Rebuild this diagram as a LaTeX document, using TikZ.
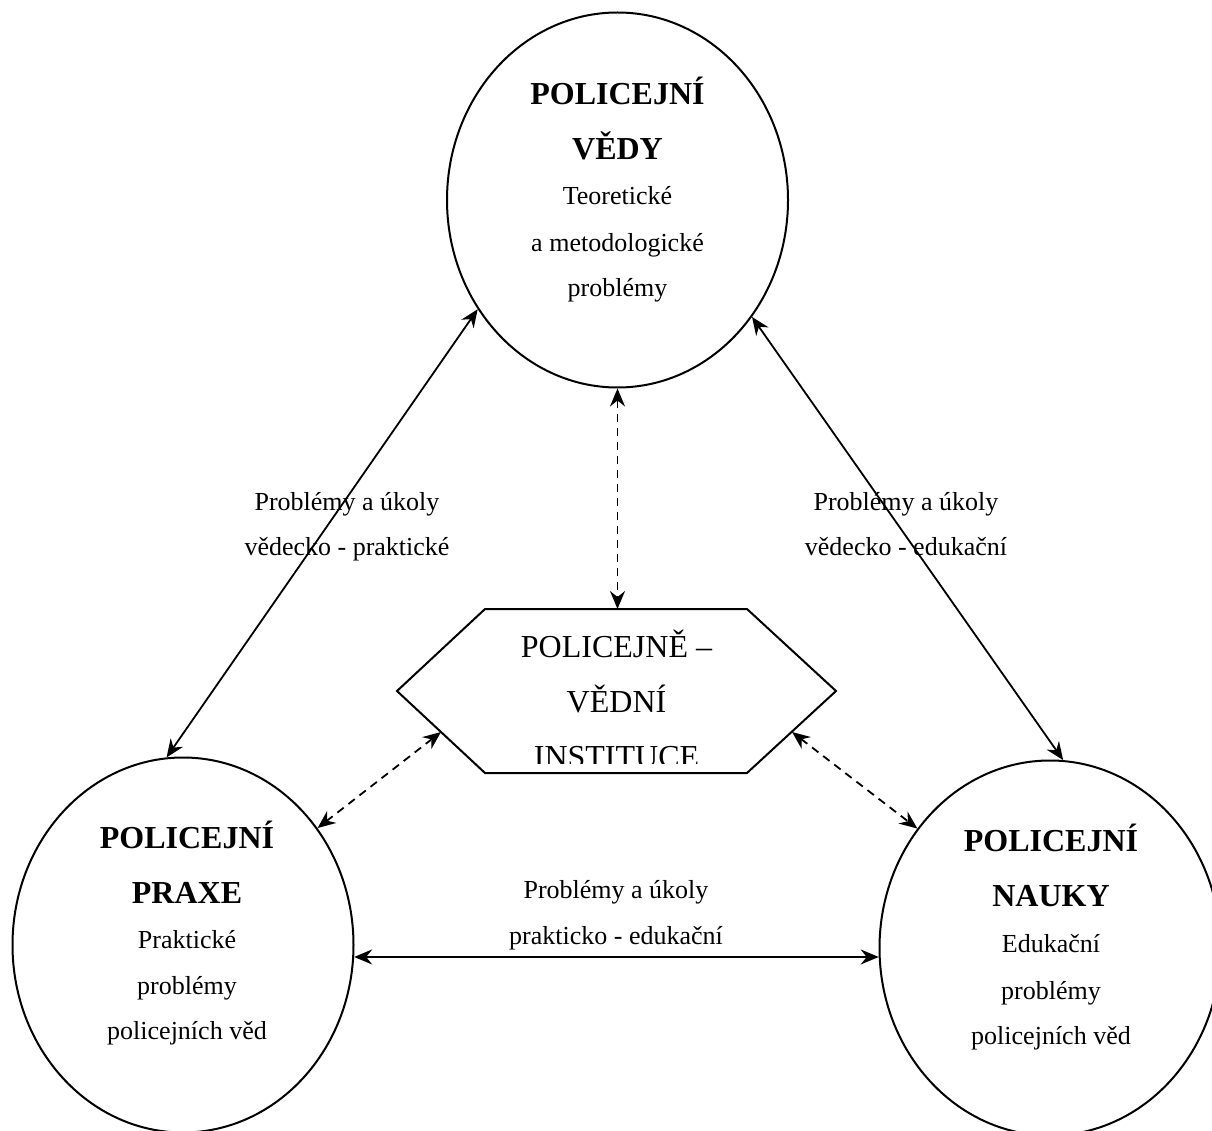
\documentclass[tikz,border=0pt]{standalone}
\usepackage{fontspec}
\setmainfont{Liberation Serif}
\usetikzlibrary{shapes.geometric,arrows.meta}
\begin{document}
\begin{tikzpicture}[x=1pt,y=-1pt,
  ell/.style={ellipse, draw, line width=2pt, minimum width=341pt, minimum height=375pt, inner sep=0pt},
  headtxt/.style={font=\fontsize{32}{38}\selectfont\bfseries, anchor=base, inner sep=0pt},
  bodytxt/.style={font=\fontsize{26}{31}\selectfont, anchor=base, inner sep=0pt},
  hextxt/.style={font=\fontsize{32}{38}\selectfont, anchor=base, inner sep=0pt},
  conn/.style={line width=1.8pt, {Stealth[length=18pt,width=15pt,inset=6pt]}-{Stealth[length=18pt,width=15pt,inset=6pt]}},
  dconn/.style={conn, dash pattern=on 8pt off 6pt}]
\useasboundingbox (0,0) rectangle (1212,1131);

% ellipses
\node[ell] (V) at (617.5,200) {};
\node[ell] (P) at (183,945) {};
\node[ell] (N) at (1050,948) {};

% hexagon
\coordinate (h1) at (485,609);
\coordinate (h2) at (747,609);
\coordinate (h3) at (836,691);
\coordinate (h4) at (747,773);
\coordinate (h5) at (485,773);
\coordinate (h6) at (397,691);
\draw[line width=2pt, line join=miter] (h1) -- (h2) -- (h3) -- (h4) -- (h5) -- (h6) -- cycle;
\coordinate (hexT) at (617.5,609);
\coordinate (hexL) at (441,732);
\coordinate (hexR) at (792,732);

\begin{scope}
\clip (397,600) rectangle (836,763);
\node[hextxt] (x1) at (616.5,657) {POLICEJNĚ –};
\node[hextxt] (x2) at (616.5,712) {VĚDNÍ};
\node[hextxt] (x3) at (616.5,767) {INSTITUCE};
\end{scope}

% top texts
\node[headtxt] (v1) at (617.5,105) {POLICEJNÍ};
\node[headtxt] (v2) at (617.5,160) {VĚDY};
\node[bodytxt] (v3) at (617.5,205) {Teoretické};
\node[bodytxt] (v4) at (617.5,252) {a metodologické};
\node[bodytxt] (v5) at (617.5,297) {problémy};

% left texts
\node[headtxt] (p1) at (187,848) {POLICEJNÍ};
\node[headtxt] (p2) at (187,903) {PRAXE};
\node[bodytxt] (p3) at (187,948) {Praktické};
\node[bodytxt] (p4) at (187,994) {problémy};
\node[bodytxt] (p5) at (187,1039) {policejních věd};

% right texts
\node[headtxt] (n1) at (1051,851) {POLICEJNÍ};
\node[headtxt] (n2) at (1051,906) {NAUKY};
\node[bodytxt] (n3) at (1051,952) {Edukační};
\node[bodytxt] (n4) at (1051,999) {problémy};
\node[bodytxt] (n5) at (1051,1044) {policejních věd};

% connectors
\draw[conn] (V.218.66) -- (P.95.2);
\draw[conn] (V.319.97) -- (N.86.9);
\draw[conn] (P.356) -- (N.183);
\draw[dconn] (V.south) -- (hexT);
\draw[dconn] (hexL) -- (P.41.37);
\draw[dconn] (hexR) -- (N.138.1);

% labels
\node[bodytxt] (l1) at (347,510) {Problémy a úkoly};
\node[bodytxt] (l2) at (347,555) {vědecko - praktické};
\node[bodytxt] (r1) at (906,510) {Problémy a úkoly};
\node[bodytxt] (r2) at (906,555) {vědecko - edukační};
\node[bodytxt] (m1) at (616,898) {Problémy a úkoly};
\node[bodytxt] (m2) at (616,944) {prakticko - edukační};
\end{tikzpicture}
\end{document}
